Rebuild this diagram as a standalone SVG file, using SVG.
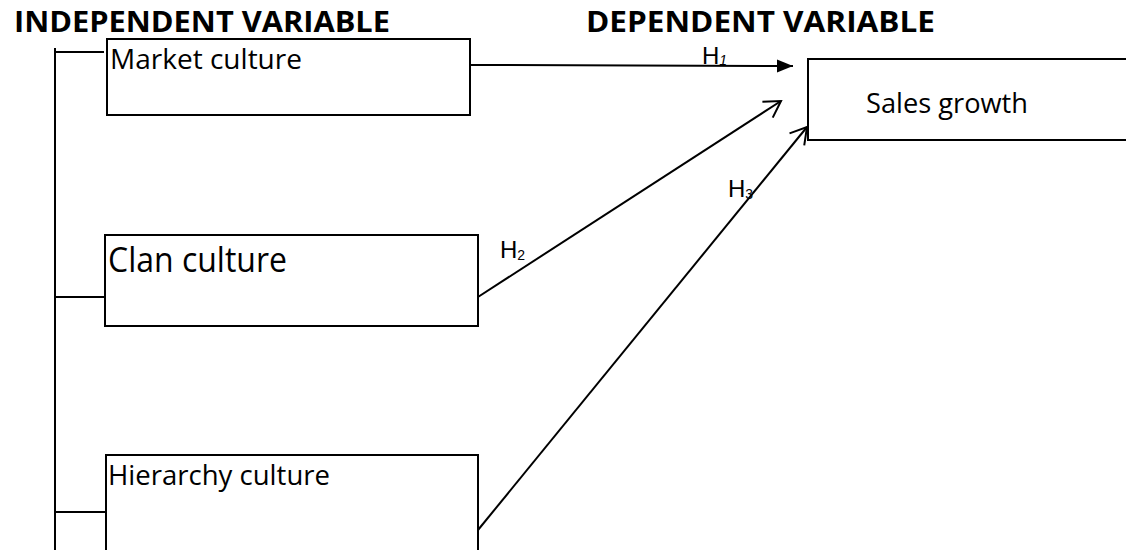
<svg xmlns="http://www.w3.org/2000/svg" width="1126" height="550" viewBox="0 0 1126 550">
<defs>
<style>
.box{fill:#fff;stroke:#000;stroke-width:2}
.lbl{font-family:"Open Sans","Liberation Sans",sans-serif;fill:#000}
.hd{font-family:"Open Sans","Liberation Sans",sans-serif;font-weight:bold;font-size:28px;fill:#000}
.h{font-family:"Liberation Sans",Arial,sans-serif;fill:#000}
.conn{stroke:#000;stroke-width:2;fill:none}
.tree{stroke:#000;stroke-width:2;fill:none}
</style>
<marker id="tri" markerUnits="userSpaceOnUse" markerWidth="18" markerHeight="14" refX="16" refY="6.5" orient="auto"><path d="M0,0 L16,6.5 L0,13 Z" fill="#000"/></marker>
<marker id="open" markerUnits="userSpaceOnUse" markerWidth="20" markerHeight="22" refX="17" refY="10" orient="auto" overflow="visible"><path d="M1,0.5 L17,10 L1,19.5" fill="none" stroke="#000" stroke-width="2"/></marker>
</defs>
<rect width="1126" height="550" fill="#fff"/>
<g id="headings">
<text class="hd" x="14" y="32" textLength="376" lengthAdjust="spacingAndGlyphs">INDEPENDENT VARIABLE</text>
<text class="hd" x="586" y="32" textLength="349" lengthAdjust="spacingAndGlyphs">DEPENDENT VARIABLE</text>
</g>
<g id="tree">
<path class="tree" d="M55,48 V550 M55,52 H104 M55,297 H105 M55,512 H106"/>
</g>
<g id="market">
<rect class="box" x="107" y="39" width="363" height="76"/>
<text class="lbl" x="110" y="69" font-size="27" textLength="192" lengthAdjust="spacingAndGlyphs">Market culture</text>
</g>
<g id="clan">
<rect class="box" x="105" y="235" width="373" height="91"/>
<text class="lbl" x="108" y="272" font-size="35" textLength="179" lengthAdjust="spacingAndGlyphs">Clan culture</text>
</g>
<g id="hierarchy">
<rect class="box" x="106" y="455" width="372" height="110"/>
<text class="lbl" x="108" y="485" font-size="27" textLength="222" lengthAdjust="spacingAndGlyphs">Hierarchy culture</text>
</g>
<g id="sales">
<rect class="box" x="808" y="59" width="330" height="81"/>
<text class="lbl" x="866" y="113" font-size="28" textLength="162" lengthAdjust="spacingAndGlyphs">Sales growth</text>
</g>
<g id="connectors">
<line class="conn" x1="471" y1="65" x2="793" y2="66" marker-end="url(#tri)"/>
<line class="conn" x1="478" y1="297" x2="781" y2="101" marker-end="url(#open)"/>
<line class="conn" x1="478" y1="530" x2="807" y2="127" marker-end="url(#open)"/>
</g>
<g id="labels">
<text class="h" x="702" y="64" font-size="24">H<tspan font-size="14" font-style="italic" dy="1">1</tspan></text>
<text class="h" x="500" y="258" font-size="24">H<tspan font-size="14" dy="2">2</tspan></text>
<text class="h" x="728" y="197" font-size="24">H<tspan font-size="14" dy="2">3</tspan></text>
</g>
</svg>
